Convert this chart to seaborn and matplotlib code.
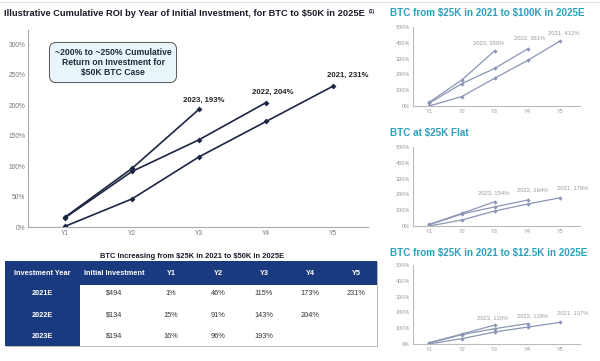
import numpy as np
import pandas as pd
import seaborn as sns
import matplotlib.pyplot as plt
from matplotlib.patches import Rectangle

# data
years = ["Y1", "Y2", "Y3", "Y4", "Y5"]
cohorts = ["2021", "2022", "2023"]

roi_50k = {"2021": [1, 46, 115, 173, 231], "2022": [15, 91, 143, 204], "2023": [16, 96, 193]}
roi_100k = {"2021": [0, 60, 176, 288, 412], "2022": [17, 142, 238, 361], "2023": [23, 165, 350]}
roi_flat = {"2021": [0, 38, 95, 139, 179], "2022": [7, 76, 121, 164], "2023": [10, 80, 154]}
roi_12k = {"2021": [0, 34, 76, 107, 137], "2022": [6, 59, 97, 129], "2023": [8, 63, 120]}

table_years = ["2021E", "2022E", "2023E"]
initial_investment = ["$494", "$134", "$194"]
table_cols = ["Investment Year", "Initial Investment"] + years

sns.set_theme(style="white")
plt.rcParams['font.family'] = ['Liberation Sans', 'DejaVu Sans']
plt.rcParams['text.parse_math'] = False

navy = "#1c2541"
grey_line = "#8a95b5"
teal = "#2aa0bd"
W, H = 600, 361

fig = plt.figure(figsize=(6, 3.61), dpi=100)


def box(x0, y0, x1, y1):
    # pixel box -> figure fraction
    return [x0 / W, 1 - y1 / H, (x1 - x0) / W, (y1 - y0) / H]


def draw_lines(ax, data, color, lw, ms):
    for c in cohorts:
        vals = data[c]
        sns.lineplot(x=np.arange(len(vals)), y=vals, ax=ax, color=color, lw=lw,
                     marker="D", markersize=ms, markeredgewidth=0)


def style_axes(ax, ylim, yticks, xlim, fs, tick_color, spine_color):
    ax.set_ylim(*ylim)
    ax.set_xlim(*xlim)
    ax.set_yticks(yticks)
    ax.set_yticklabels([f"{t}%" for t in yticks], fontsize=fs, color=tick_color)
    ax.set_xticks(range(5))
    ax.set_xticklabels(years, fontsize=fs, color=tick_color)
    ax.tick_params(length=0, pad=2)
    for s in ["top", "right"]:
        ax.spines[s].set_visible(False)
    for s in ["left", "bottom"]:
        ax.spines[s].set_color(spine_color)
        ax.spines[s].set_linewidth(0.8)
    ax.set_xlabel("")
    ax.set_ylabel("")
    ax.set_facecolor("none")


def label_ends(ax, data, offsets, fs, color, weight):
    for c in cohorts:
        vals = data[c]
        i = len(vals) - 1
        ax.annotate(f"{c}, {vals[-1]}%", (i, vals[-1]), xytext=offsets[c],
                    textcoords="offset pixels", ha="center", va="center",
                    fontsize=fs, color=color, fontweight=weight)


# main chart
ax = fig.add_axes(box(28, 30, 368, 227))
draw_lines(ax, roi_50k, navy, 1.2, 3)
style_axes(ax, (0, 323), [0, 50, 100, 150, 200, 250, 300], (-0.55, 4.52), 4.8, "#777777", "#aaaaaa")
label_ends(ax, roi_50k, {"2021": (15, 11), "2022": (7, 10), "2023": (5, 9)}, 5.6, "#222222", "bold")
ax.text(0.25, 0.835, "~200% to ~250% Cumulative\nReturn on Investment for\n$50K BTC Case",
        transform=ax.transAxes, ha="center", va="center", fontsize=6.2, fontweight="bold",
        color="#1f2a3a", linespacing=1.2,
        bbox=dict(boxstyle="round,pad=0.6,rounding_size=0.8", fc="#eaf5fb", ec="#555555", lw=0.7))

fig.text(4 / W, 1 - 14 / H, "Illustrative Cumulative ROI by Year of Initial Investment, for BTC to $50K in 2025E",
         fontsize=6.65, fontweight="bold", color="#1a1a2a", va="center", ha="left")
fig.text(369 / W, 1 - 11 / H, "(1)", fontsize=3.6, fontweight="bold", color="#1a1a2a", va="center")

# table
tax = fig.add_axes(box(0, 248, 380, 350))
tax.set_xlim(0, 380)
tax.set_ylim(350, 248)
tax.axis("off")
tbl_navy = "#1a3a80"
tax.add_patch(Rectangle((6, 262), 372, 85, fc="#bbbbbb", ec="none"))
tax.add_patch(Rectangle((5, 261), 372, 85, fc="white", ec="none"))
tax.add_patch(Rectangle((5, 261), 372, 24, fc=tbl_navy, ec="none"))
tax.add_patch(Rectangle((5, 261), 75, 85, fc=tbl_navy, ec="none"))
tax.text(192, 256, "BTC Increasing from $25K in 2021 to $50K in 2025E", ha="center", va="center",
         fontsize=5.4, fontweight="bold", color="#1a1a2a")
col_x = [42, 114, 171, 218, 264, 310, 356]
row_y = [293, 315, 336]
for x, name in zip(col_x, table_cols):
    tax.text(x, 273, name, ha="center", va="center", fontsize=5.3, fontweight="bold", color="white")
for r, yr in enumerate(table_years):
    y = row_y[r]
    tax.text(col_x[0], y, yr, ha="center", va="center", fontsize=5.3, fontweight="bold", color="white")
    tax.text(col_x[1], y, initial_investment[r], ha="center", va="center", fontsize=5.3, color="#333333")
    for j, v in enumerate(roi_50k[cohorts[r]]):
        tax.text(col_x[2 + j], y, f"{v}%", ha="center", va="center", fontsize=5.3, color="#333333")

# small charts on the right
small = [
    ("BTC from $25K in 2021 to $100K in 2025E", roi_100k, 27, 106, 13,
     {"2021": (3, 8), "2022": (2, 11), "2023": (-6, 8)}),
    ("BTC at $25K Flat", roi_flat, 147, 226, 133,
     {"2021": (12, 10), "2022": (5, 10), "2023": (-1, 9)}),
    ("BTC from $25K in 2021 to $12.5K in 2025E", roi_12k, 265, 344, 253,
     {"2021": (12, 10), "2022": (5, 8), "2023": (-2, 7)}),
]
for title, data, top, bottom, ty, offs in small:
    sax = fig.add_axes(box(413, top, 580, bottom))
    draw_lines(sax, data, grey_line, 0.9, 2.2)
    style_axes(sax, (0, 500), [0, 100, 200, 300, 400, 500], (-0.49, 4.6), 4.0, "#999999", "#bbbbbb")
    label_ends(sax, data, offs, 4.2, "#999999", "normal")
    fig.text(390 / W, 1 - ty / H, title, fontsize=7.1, fontweight="bold", color=teal, va="center")

fig.add_artist(plt.Line2D([0, 1], [1 - 1.5 / H, 1 - 1.5 / H], color="#dddddd", lw=0.8))

fig.savefig("out.png", dpi=100)
plt.close()
